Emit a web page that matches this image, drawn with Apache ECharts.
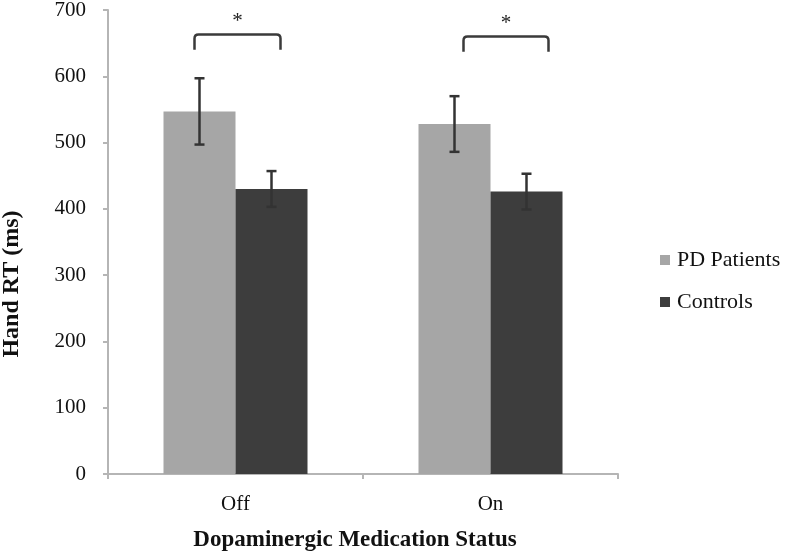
<!DOCTYPE html>
<html><head><meta charset="utf-8">
<script src="https://cdn.jsdelivr.net/npm/echarts@6/dist/echarts.min.js"></script>
<style>html,body{margin:0;padding:0;background:#fff}#c{width:788px;height:558px}</style>
</head><body><div id="c"></div>
<script>
var categories = ['Off', 'On'];
var pdMeans = [547, 528];
var pdErr = [50, 42];
var ctrlMeans = [430, 426];
var ctrlErr = [27, 27];
var bracketTop = [663, 660];
var bracketEnd = [640, 637];
var yTicks = [0, 100, 200, 300, 400, 500, 600, 700];

var FONT = '"Liberation Serif", "Times New Roman", serif';
var BARW = 72;
// bracket horizontal extents relative to band center (px)
var bracketOffsets = [[-41, 45], [-27, 58]];

function errItem(means, errs, shift) {
  return function (params, api) {
    var i = api.value(0);
    var lo = api.coord([i, api.value(1) - api.value(2)]);
    var hi = api.coord([i, api.value(1) + api.value(2)]);
    var x = lo[0] + shift;
    var cap = 5;
    var st = { stroke: '#333333', lineWidth: 2.5 };
    return { type: 'group', children: [
      { type: 'line', shape: { x1: x, y1: lo[1], x2: x, y2: hi[1] }, style: st },
      { type: 'line', shape: { x1: x - cap, y1: lo[1], x2: x + cap, y2: lo[1] }, style: st },
      { type: 'line', shape: { x1: x - cap, y1: hi[1], x2: x + cap, y2: hi[1] }, style: st }
    ]};
  };
}

var chart = echarts.init(document.getElementById('c'));
chart.setOption({
  animation: false,
  backgroundColor: '#ffffff',
  grid: { left: 108, right: 170, top: 10, bottom: 84, outerBoundsMode: 'none', containLabel: false },
  graphic: [{
    type: 'text', x: 12, y: 284, rotation: Math.PI / 2,
    style: { text: 'Hand RT (ms)', fontFamily: FONT, fontSize: 24, fontWeight: 'bold',
      fill: '#111', align: 'center', verticalAlign: 'middle' }
  }],
  legend: {
    orient: 'vertical', left: 655, top: 244, itemWidth: 10, itemHeight: 10, itemGap: 20,
    icon: 'rect',
    textStyle: { fontFamily: FONT, fontSize: 22, color: '#111', padding: [0, 0, 0, 2] },
    data: ['PD Patients', 'Controls']
  },
  xAxis: {
    type: 'category', data: categories,
    name: 'Dopaminergic Medication Status', nameLocation: 'middle', nameGap: 55,
    nameTextStyle: { fontFamily: FONT, fontSize: 23, fontWeight: 'bold', color: '#111',
      padding: [0, 16, 0, 0] },
    axisLine: { lineStyle: { color: '#b5b5b5', width: 2 } },
    axisTick: { show: true, length: 5, lineStyle: { color: '#b5b5b5', width: 2 } },
    axisLabel: { fontFamily: FONT, fontSize: 21, color: '#111', margin: 20 }
  },
  yAxis: {
    type: 'value', min: 0, max: 700, interval: 100,
    axisLine: { show: true, lineStyle: { color: '#b5b5b5', width: 2 } },
    axisTick: { show: true, length: 5, lineStyle: { color: '#b5b5b5', width: 2 } },
    splitLine: { show: false },
    axisLabel: { fontFamily: FONT, fontSize: 21, color: '#111', margin: 22,
      formatter: function (v) { return yTicks.indexOf(v) >= 0 ? String(v) : ''; } }
  },
  series: [
    { name: 'PD Patients', type: 'bar', data: pdMeans, barWidth: BARW, barGap: '0%',
      itemStyle: { color: '#a6a6a6' } },
    { name: 'Controls', type: 'bar', data: ctrlMeans, barWidth: BARW, barGap: '0%',
      itemStyle: { color: '#3d3d3d' } },
    { type: 'custom', name: 'pdErr', z: 5,
      data: categories.map(function (c, i) { return [i, pdMeans[i], pdErr[i]]; }),
      renderItem: errItem(pdMeans, pdErr, -BARW / 2) },
    { type: 'custom', name: 'ctrlErr', z: 5,
      data: categories.map(function (c, i) { return [i, ctrlMeans[i], ctrlErr[i]]; }),
      renderItem: errItem(ctrlMeans, ctrlErr, BARW / 2) },
    { type: 'custom', name: 'brackets', z: 5,
      data: categories.map(function (c, i) { return [i, bracketTop[i], bracketEnd[i]]; }),
      renderItem: function (params, api) {
        var i = api.value(0);
        var top = api.coord([i, api.value(1)]);
        var end = api.coord([i, api.value(2)]);
        var off = bracketOffsets[params.dataIndex];
        var x1 = top[0] + off[0], x2 = top[0] + off[1];
        var r = 4;
        return { type: 'group', children: [
          { type: 'path', shape: {
              pathData: 'M' + x1 + ' ' + end[1] + ' L' + x1 + ' ' + (top[1] + r) +
                ' Q' + x1 + ' ' + top[1] + ' ' + (x1 + r) + ' ' + top[1] +
                ' L' + (x2 - r) + ' ' + top[1] +
                ' Q' + x2 + ' ' + top[1] + ' ' + x2 + ' ' + (top[1] + r) +
                ' L' + x2 + ' ' + end[1] },
            style: { fill: null, stroke: '#3a3a3a', lineWidth: 2.5 } },
          { type: 'text', x: (x1 + x2) / 2, y: top[1] - 13,
            style: { text: '*', fontFamily: FONT, fontSize: 21, fill: '#222',
              align: 'center', verticalAlign: 'middle' } }
        ]};
      } }
  ]
});
</script></body></html>
